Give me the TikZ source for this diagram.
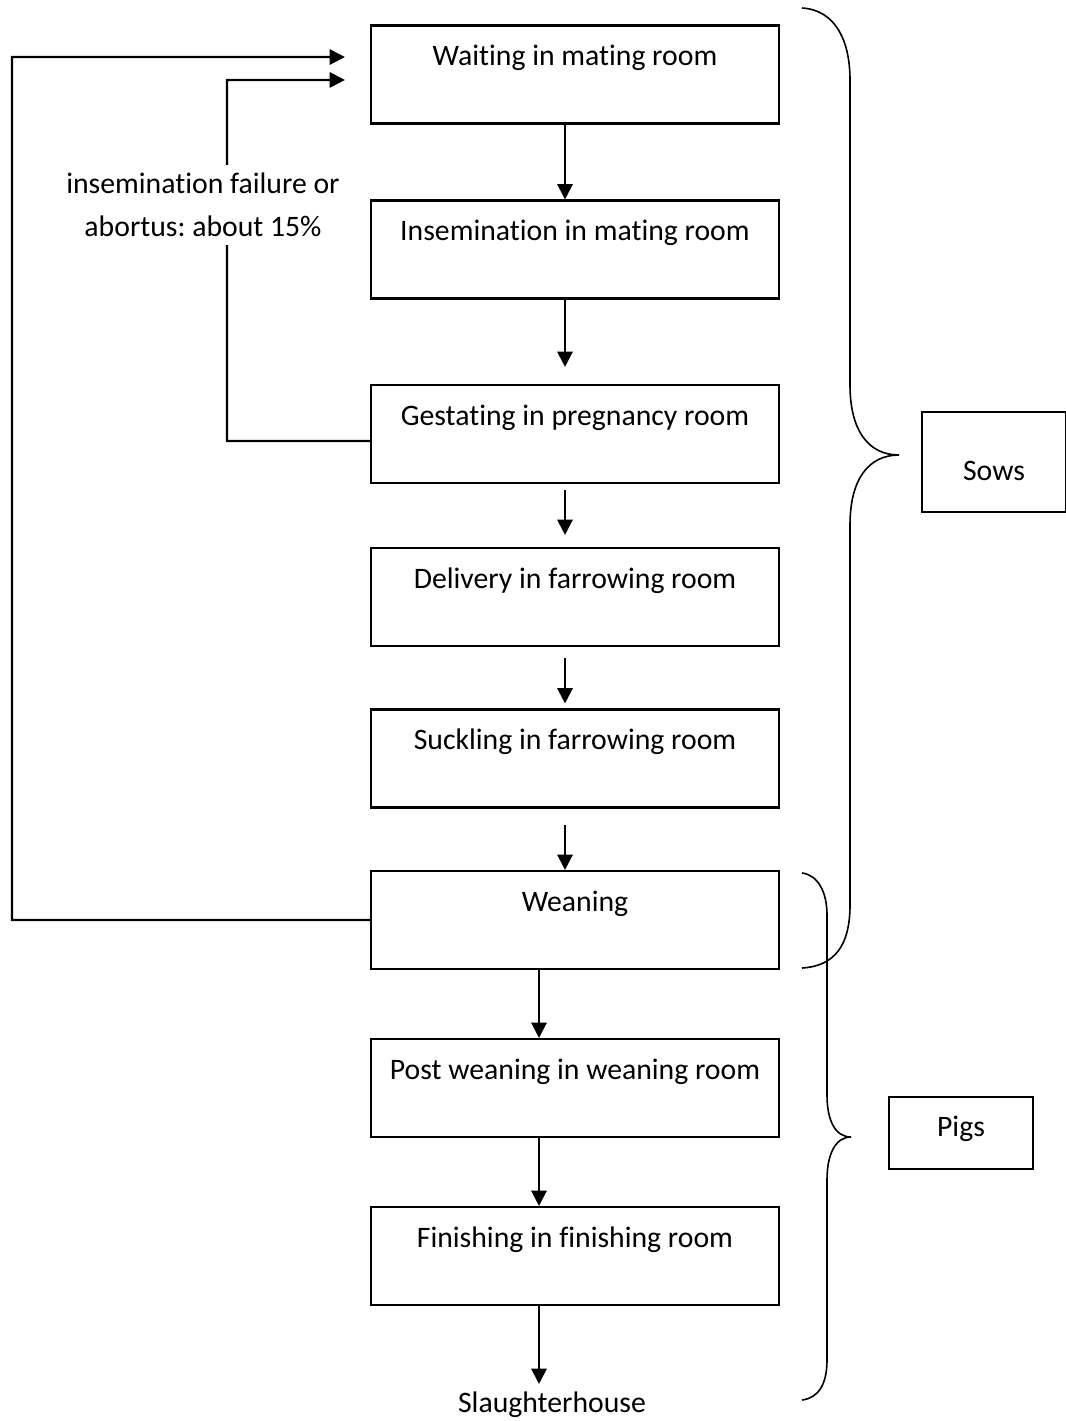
\documentclass[tikz,border=0pt]{standalone}
\usepackage{fontspec}
\setmainfont{Carlito}[Ligatures=NoCommon]
\usetikzlibrary{arrows.meta}
\frenchspacing

\begin{document}
\begin{tikzpicture}[x=0.75pt,y=-0.75pt,->,>={Triangle[length=11.5pt,width=11.5pt]},
                    line width=1.6pt,
                    room/.style={draw,-,minimum width=306pt,inner sep=0pt,
                                 text height=30pt,text depth=43.5pt},
                    tag/.style={draw,-,inner sep=0pt,minimum width=108pt}]
\tikzset{every node/.style={font=\fontsize{22.3}{32}\selectfont}}
\useasboundingbox (0,0) rectangle (1065,1421);
\node[room] (WAIT)  at (575,74.5) {Waiting in mating room};
\node[room] (INSEM) at (575,249.5) {Insemination in mating room};
\node[room] (GEST)  at (575,434) {Gestating in pregnancy room};
\node[room] (DELIV) at (575,597) {Delivery in farrowing room};
\node[room] (SUCK)  at (575,758.5) {Suckling in farrowing room};
\node[room] (WEAN)  at (575,920) {Weaning};
\node[room] (POST)  at (575,1088) {Post weaning in weaning room};
\node[room] (FIN)   at (575,1256) {Finishing in finishing room};
\node (SLAUGHTER) at (552,1405) {Slaughterhouse};
\node[tag,text height=51pt,text depth=24pt] (SOWS) at (994,462) {Sows};
\node[tag,text height=29.25pt,text depth=24.75pt] (PIGS) at (961,1133) {Pigs};

\coordinate (TOPX) at (565,0);
\coordinate (LOWX) at (539,0);
\coordinate (OUTER) at (12,57);
\coordinate (INNER) at (227,80);

\draw (WAIT.south -| TOPX) -- (INSEM.north -| TOPX);
\draw[shorten >=12.75pt] (INSEM.south -| TOPX) -- (GEST.north -| TOPX);
\draw[shorten <=4.5pt,shorten >=9pt] (GEST.south -| TOPX) -- (DELIV.north -| TOPX);
\draw[shorten <=8.25pt,shorten >=3.75pt] (DELIV.south -| TOPX) -- (SUCK.north -| TOPX);
\draw[shorten <=12pt] (SUCK.south -| TOPX) -- (WEAN.north -| TOPX);
\draw (WEAN.south -| LOWX) -- (POST.north -| LOWX);
\draw (POST.south -| LOWX) -- (FIN.north -| LOWX);
\draw[shorten >=2pt] (FIN.south -| LOWX) -- (SLAUGHTER.north -| LOWX);

% return loops to the mating room
\draw[shorten >=18.75pt] (WEAN.west) -| (OUTER) -- ([yshift=13.1pt]WAIT.west);
\draw[shorten >=18.75pt] ([yshift=-5.25pt]GEST.west) -| (INNER) -- ([yshift=-4.1pt]WAIT.west);
\node[fill=white,align=center,inner xsep=2pt,inner ysep=6pt] (FAIL) at (203,205)
  {insemination failure or\\abortus: about 15\%};

% braces
\draw[-,line width=1.2pt] (802,8) .. controls (835,10) and (850,40) .. (850,80) -- (850,385)
  .. controls (850,430) and (868,455) .. (899,455)
  .. controls (868,455) and (850,480) .. (850,525) -- (850,905)
  .. controls (850,945) and (835,966) .. (802,968);
\draw[-,line width=1.2pt] (802,873) .. controls (818,875) and (827,892) .. (827,915) -- (827,1095)
  .. controls (827,1120) and (835,1137) .. (851,1137)
  .. controls (835,1137) and (827,1155) .. (827,1180) -- (827,1360)
  .. controls (827,1385) and (818,1398) .. (802,1400);
\end{tikzpicture}
\end{document}
